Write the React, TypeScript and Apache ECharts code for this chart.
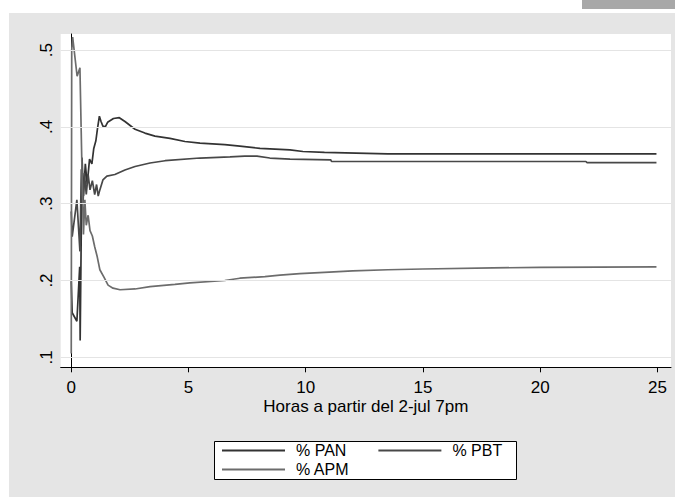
import React, { useEffect, useRef } from "react";
import * as echarts from "echarts";

const seriesNames = ["% PAN", "% PBT", "% APM"];
const seriesColors = ["#333333", "#484848", "#6c6c6c"];

const panData: [number, number][] = [
  [0.0, 0.199], [0.04, 0.158], [0.24, 0.147], [0.36, 0.218], [0.38, 0.122], [0.46, 0.36],
  [0.52, 0.31], [0.6, 0.352], [0.68, 0.325], [0.78, 0.358], [0.88, 0.352], [0.96, 0.372],
  [1.05, 0.382], [1.12, 0.398], [1.2, 0.414], [1.27, 0.407], [1.35, 0.401], [1.45, 0.4],
  [1.55, 0.406], [1.8, 0.411], [2.05, 0.412], [2.29, 0.407], [2.72, 0.397], [3.14, 0.392],
  [3.57, 0.388], [4.21, 0.385], [4.85, 0.381], [5.49, 0.379], [6.55, 0.377], [7.19, 0.375],
  [8.05, 0.372], [9.33, 0.37], [9.88, 0.368], [10.8, 0.3668], [13.5, 0.365], [24.96, 0.365],
];

const pbtData: [number, number][] = [
  [0.0, 0.29], [0.04, 0.257], [0.24, 0.305], [0.37, 0.238], [0.43, 0.345], [0.5, 0.3],
  [0.56, 0.34], [0.64, 0.312], [0.72, 0.338], [0.8, 0.318], [0.9, 0.33], [1.0, 0.312],
  [1.08, 0.325], [1.15, 0.31], [1.22, 0.318], [1.35, 0.331], [1.52, 0.336], [1.86, 0.338],
  [2.29, 0.344], [2.72, 0.3485], [3.36, 0.353], [4.0, 0.356], [5.49, 0.3595], [6.77, 0.361],
  [7.4, 0.362], [7.92, 0.362], [8.47, 0.3595], [9.33, 0.358], [11.07, 0.357], [11.1, 0.355],
  [21.95, 0.355], [22.0, 0.3535], [24.96, 0.3535],
];

const apmData: [number, number][] = [
  [0.0, 0.105], [0.02, 0.5], [0.06, 0.517], [0.25, 0.466], [0.37, 0.477], [0.46, 0.34],
  [0.52, 0.26], [0.58, 0.305], [0.64, 0.272], [0.72, 0.285], [0.8, 0.265], [0.9, 0.258],
  [1.0, 0.244], [1.1, 0.232], [1.22, 0.214], [1.4, 0.204], [1.57, 0.194], [1.78, 0.19],
  [2.08, 0.188], [2.72, 0.189], [3.36, 0.192], [4.42, 0.195], [5.06, 0.197], [6.55, 0.2],
  [7.19, 0.203], [8.26, 0.205], [8.9, 0.207], [9.75, 0.209], [11, 0.211], [12, 0.2125],
  [13.5, 0.214], [15, 0.215], [18, 0.2165], [20, 0.217], [24.96, 0.2177],
];

const xTicks = [0, 5, 10, 15, 20, 25];
const yTicks = [0.1, 0.2, 0.3, 0.4, 0.5];
const xTitle = "Horas a partir del 2-jul 7pm";

const FONT = "'Liberation Sans', Arial, Helvetica, sans-serif";

export default function App() {
  const ref = useRef<HTMLDivElement>(null);

  useEffect(() => {
    if (!ref.current) return;
    const chart = echarts.init(ref.current, undefined, { renderer: "svg" });
    const allData = [panData, pbtData, apmData];
    const legendCommon = {
      orient: "horizontal",
      icon: "rect",
      itemWidth: 63,
      itemHeight: 2,
      padding: 0,
      z: 5,
      textStyle: { fontSize: 16, lineHeight: 15, color: "#000", fontFamily: FONT, padding: [0, 0, 0, 6] },
    };
    chart.setOption({
      animation: false,
      backgroundColor: "transparent",
      textStyle: { fontFamily: FONT },
      grid: {
        left: 60.7,
        right: 4,
        top: 34,
        bottom: 129.7,
        show: true,
        backgroundColor: "#ffffff",
        borderWidth: 0,
      },
      graphic: [
        {
          type: "rect",
          z: 1,
          silent: true,
          shape: { x: 214.5, y: 441.5, width: 302, height: 38 },
          style: { fill: "#ffffff", stroke: "#000000", lineWidth: 1 },
        },
      ],
      xAxis: {
        type: "value",
        min: -0.45,
        max: 25.58,
        name: xTitle,
        nameLocation: "middle",
        nameGap: 31,
        nameMoveOverlap: false,
        nameTextStyle: { fontSize: 17, color: "#000", fontFamily: FONT },
        axisLine: { show: true, lineStyle: { color: "#000", width: 1 } },
        axisTick: { show: true, length: 5, customValues: xTicks, lineStyle: { color: "#000" } },
        axisLabel: { customValues: xTicks, fontSize: 17, color: "#000", margin: 12, fontFamily: FONT },
        splitLine: { show: false },
      },
      yAxis: {
        type: "value",
        min: 0.087,
        max: 0.521,
        axisLine: { show: true, lineStyle: { color: "#000", width: 1 } },
        axisTick: { show: true, length: 5, customValues: yTicks, lineStyle: { color: "#000" } },
        axisLabel: {
          customValues: yTicks,
          rotate: 90,
          fontSize: 17,
          color: "#000",
          margin: 6,
          fontFamily: FONT,
          formatter: (v: number) => v.toFixed(1).replace(/^0/, ""),
        },
        splitLine: { show: false },
      },
      legend: [
        { ...legendCommon, data: [seriesNames[0], seriesNames[1]], left: 222, top: 442.5, itemGap: 32 },
        { ...legendCommon, data: [seriesNames[2]], left: 222, top: 461.5, itemGap: 32 },
      ],
      series: [
        {
          type: "line",
          name: "grid",
          data: [],
          silent: true,
          z: 1,
          markLine: {
            silent: true,
            symbol: "none",
            label: { show: false },
            lineStyle: { color: "#e4e4e4", type: "solid", width: 1 },
            data: yTicks.map((v) => ({ yAxis: v })),
          },
        },
        ...seriesNames.map((name, i) => ({
          type: "line",
          name,
          data: allData[i],
          showSymbol: false,
          symbol: "none",
          z: 3,
          color: seriesColors[i],
          lineStyle: { color: seriesColors[i], width: 1.7 },
        })),
      ],
    });
    return () => chart.dispose();
  }, []);

  return (
    <div style={{ position: "fixed", left: 0, top: 0, width: 675, height: 497, background: "#ffffff", overflow: "hidden" }}>
      <div style={{ position: "absolute", left: 9, top: 13, width: 666, height: 484, background: "#e5e5e5" }} />
      <div style={{ position: "absolute", left: 582, top: 0, width: 93, height: 9, background: "#a8a8a8" }} />
      <div ref={ref} style={{ position: "absolute", left: 0, top: 0, width: 675, height: 497 }} />
    </div>
  );
}
